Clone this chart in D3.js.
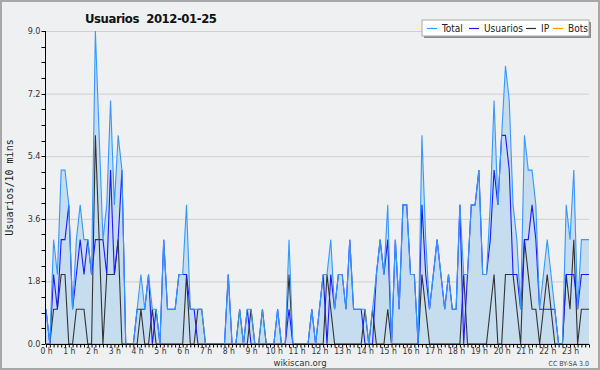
<!DOCTYPE html>
<html>
<head>
<meta charset="utf-8">
<script src="https://cdn.jsdelivr.net/npm/d3@7"></script>
<style>
  body { margin: 0; background: #fff; }
  svg { display: block; }
  text { font-family: "DejaVu Sans Condensed", "DejaVu Sans", sans-serif; }
</style>
</head>
<body>
<script>
// values per 10 minutes, 144 slots (0 h .. 23 h 50)
const total = [
  1,0,3,2,5,5,4,1,3,4,3,3,2,9,6,3,4,7,4,6,5,0,0,0,
  1,2,1,2,1,1,0,3,1,1,1,2,2,4,1,1,1,1,0,0,0,0,0,0,
  2,0,0,1,0,1,1,0,0,1,0,0,0,1,0,0,3,0,0,0,0,0,1,0,
  1,2,2,3,1,2,2,1,3,1,1,1,1,0,1,2,3,2,4,0,3,1,4,4,
  2,2,0,6,3,1,2,3,2,1,2,1,1,4,2,2,4,4,5,2,2,4,7,4,
  6,8,7,4,3,1,6,5,5,4,1,2,3,2,1,0,0,4,3,5,1,3,3,3
];
const usuarios = [
  1,0,2,1,3,3,4,1,2,3,2,3,2,3,3,3,2,5,2,3,5,0,0,0,
  1,1,1,2,0,1,0,3,1,1,1,2,2,2,1,1,0,0,0,0,0,0,0,0,
  2,0,0,0,0,1,0,0,0,0,0,0,0,1,0,0,1,0,0,0,0,0,1,0,
  1,2,0,2,1,2,2,1,3,1,1,1,0,0,0,2,3,2,3,0,3,1,4,4,
  2,2,0,4,2,1,2,3,2,1,2,1,1,4,0,2,4,4,5,2,2,3,5,4,
  6,6,5,2,2,1,3,3,4,3,1,1,1,1,1,0,0,2,2,2,1,2,2,2
];
const ip = [
  0,0,1,1,2,2,0,0,1,1,1,0,0,6,3,0,2,2,2,3,0,0,0,0,
  0,1,0,0,1,0,0,0,0,0,0,0,0,2,0,0,1,1,0,0,0,0,0,0,
  0,0,0,1,0,0,1,0,0,1,0,0,0,0,0,0,2,0,0,0,0,0,0,0,
  0,0,2,1,0,0,0,0,0,0,0,0,1,0,1,0,0,0,1,0,0,0,0,0,
  0,0,0,2,1,0,0,0,0,0,0,0,0,0,2,0,0,0,0,0,0,1,2,0,
  0,2,2,2,1,0,3,2,1,1,0,1,2,1,0,0,0,2,1,3,0,1,1,1
];
const bots = new Array(144).fill(0);
const yTicks = [0, 1.8, 3.6, 5.4, 7.2, 9.0];

const width = 600, height = 370;
const margin = {left: 46, right: 11, top: 31, bottom: 26};

const svg = d3.select("body").append("svg")
  .attr("width", width)
  .attr("height", height);

svg.append("rect")
  .attr("x", 1).attr("y", 1)
  .attr("width", width - 2).attr("height", height - 2)
  .attr("fill", "#eff0f1")
  .attr("stroke", "#a8a8a8")
  .attr("stroke-width", 2);

const x = d3.scaleLinear().domain([0, 143]).range([margin.left, width - margin.right]);
const y = d3.scaleLinear().domain([0, 9]).range([height - margin.bottom, margin.top]);

// grid
svg.append("g")
  .selectAll("line")
  .data(yTicks.filter(d => d > 0))
  .join("line")
    .attr("x1", x(0)).attr("x2", x(143))
    .attr("y1", d => y(d) + 0.5).attr("y2", d => y(d) + 0.5)
    .attr("stroke", "#cfcfcf")
    .attr("stroke-width", 1);

// area of total
const area = d3.area()
  .x((d, i) => x(i))
  .y0(y(0))
  .y1(d => y(d));
svg.append("path")
  .datum(total)
  .attr("d", area)
  .attr("fill", "#c6dcef");

const line = d3.line()
  .x((d, i) => x(i))
  .y(d => y(d));

const series = [
  {name: "Total", values: total, color: "#3399ff"},
  {name: "Usuarios", values: usuarios, color: "#1a1aff"},
  {name: "IP", values: ip, color: "#333333"},
  {name: "Bots", values: bots, color: "#ff9900"}
];

svg.append("g")
  .selectAll("path")
  .data(series.slice().reverse())
  .join("path")
    .attr("d", d => line(d.values))
    .attr("fill", "none")
    .attr("stroke", d => d.color)
    .attr("stroke-width", 1.1);

// y axis
const yMinor = d3.range(0, 9.01, 0.45);
const yAxis = svg.append("g").attr("transform", `translate(${margin.left - 0.5},0)`);
yAxis.append("line")
  .attr("y1", y(9)).attr("y2", y(0))
  .attr("stroke", "#000");
yAxis.selectAll(".minor")
  .data(yMinor)
  .join("line")
    .attr("x1", -4).attr("x2", 0)
    .attr("y1", d => Math.round(y(d)) + 0.5).attr("y2", d => Math.round(y(d)) + 0.5)
    .attr("stroke", "#000");
yAxis.selectAll("text")
  .data(yTicks)
  .join("text")
    .attr("x", -5)
    .attr("y", d => y(d) + 3)
    .attr("text-anchor", "end")
    .attr("font-size", 9)
    .attr("fill", "#333")
    .text(d => d.toFixed(1));

// x axis
const xAxis = svg.append("g").attr("transform", `translate(0,${y(0) + 0.5})`)
  .call(d3.axisBottom(x)
    .tickValues(d3.range(0, 144))
    .tickSize(3)
    .tickFormat(d => d % 6 === 0 ? (d / 6) + " h" : ""));
xAxis.select(".domain").attr("d", `M${x(0)},0H${x(143)}`).attr("stroke", "#000");
xAxis.selectAll(".tick line").attr("stroke", "#000");
xAxis.selectAll(".tick text")
  .attr("y", 3)
  .attr("font-size", 8.5)
  .attr("font-family", "DejaVu Sans Condensed, sans-serif")
  .attr("fill", "#333");

// y label
svg.append("text")
  .attr("transform", `translate(13,${(y(0) + y(9)) / 2}) rotate(-90)`)
  .attr("text-anchor", "middle")
  .attr("font-size", 10)
  .style("font-family", "DejaVu Sans Mono, monospace")
  .attr("fill", "#222")
  .text("Usuarios/10 mins");

// title
svg.append("text")
  .attr("x", 85).attr("y", 23)
  .attr("font-size", 13)
  .attr("font-weight", "bold")
  .attr("fill", "#111")
  .style("white-space", "pre")
  .attr("textLength", 132)
  .text("Usuarios  2012-01-25");

// legend
const lg = svg.append("g");
lg.append("rect")
  .attr("x", 424).attr("y", 22).attr("width", 167).attr("height", 16)
  .attr("fill", "#8c8c8c");
lg.append("rect")
  .attr("x", 422).attr("y", 20).attr("width", 167).attr("height", 16)
  .attr("fill", "#fff").attr("stroke", "#aaa");
const legendX = [427, 469, 526, 553];
series.forEach((s, i) => {
  lg.append("line")
    .attr("x1", legendX[i]).attr("x2", legendX[i] + 10)
    .attr("y1", 28.5).attr("y2", 28.5)
    .attr("stroke", s.color).attr("stroke-width", 1.2);
  lg.append("text")
    .attr("x", legendX[i] + 15).attr("y", 32)
    .attr("font-size", 10)
    .attr("fill", "#222")
    .text(s.name);
});

// footer
svg.append("text")
  .attr("x", 300).attr("y", 366)
  .attr("text-anchor", "middle")
  .attr("font-size", 9.5)
  .attr("fill", "#333")
  .text("wikiscan.org");
svg.append("text")
  .attr("x", 589).attr("y", 366)
  .attr("text-anchor", "end")
  .attr("font-size", 7)
  .attr("fill", "#444")
  .text("CC BY-SA 3.0");
</script>
</body>
</html>
